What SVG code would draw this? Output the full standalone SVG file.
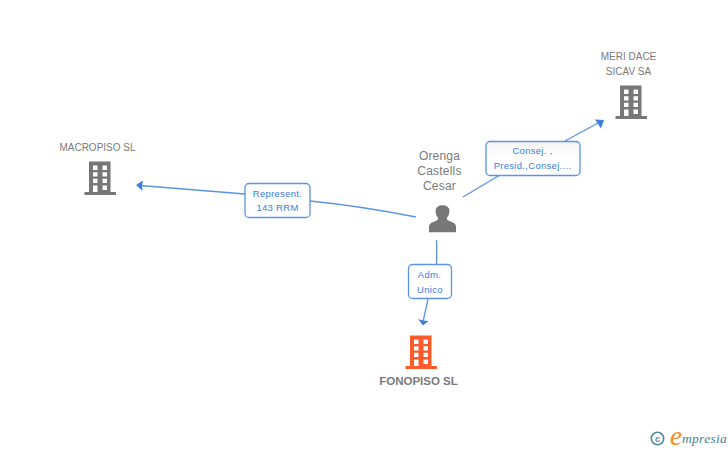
<svg xmlns="http://www.w3.org/2000/svg" width="728" height="450" viewBox="0 0 728 450">
<style>
.lbl{font-family:"Liberation Sans",Arial,sans-serif;font-size:10px;fill:#7a7a7a;text-anchor:middle}
.per{font-size:12px;letter-spacing:.2px}
.rel{font-family:"Liberation Sans",Arial,sans-serif;font-size:9.500px;fill:#3a7ce0;text-anchor:middle;letter-spacing:.3px}
.box{fill:#fff;stroke:#5b93e6;stroke-width:1.3}
.con{fill:none;stroke:#5b93e6;stroke-width:1.3}
.head{fill:#3f7fdc}
</style>
<defs>
<linearGradient id="g" x1="0" y1="0" x2="0" y2="1"><stop offset="0" stop-color="#f4f4f4"/><stop offset=".5" stop-color="#fff"/></linearGradient>
<g id="bld">
<path fill-rule="evenodd" d="M4.500 0H26V30.500H31.500V33.500H0V30.500H4.500ZM8.500 4V8.500H13V4ZM18 4V8.500H22.500V4ZM8.500 10.700V15H13V10.700ZM18 10.700V15H22.500V10.700ZM8.500 17.300V21.500H13V17.300ZM18 17.300V21.500H22.500V17.300ZM8.500 24V30.500H13V24ZM18 24V28.500H22.500V24Z"/>
</g>
</defs>
<g id="connectors">
<path class="con" d="M416 217Q360 206 310 201M245 194L140 185.500"/>
<path class="head" d="M136 185L143 180.500L142 185.800L142.500 191Z"/>
<path class="con" d="M463 197L500 175M565 141L600 122"/>
<path class="head" d="M604 120L595 119.500L598 124L601 128.500Z"/>
<path class="con" d="M436.500 240Q437 252 436.500 264M428 299L423 322"/>
<path class="head" d="M423 325.500L418 319L423 320.500L428.500 321Z"/>
</g>
<g id="rel-represent">
<rect class="box" x="245" y="183.500" width="65" height="34" rx="4"/>
<text class="rel" x="277.500" y="197">Represent.</text>
<text class="rel" x="277.500" y="211">143 RRM</text>
</g>
<g id="rel-consej">
<rect class="box" x="486" y="141.500" width="94" height="34" rx="4" style="fill:url(#g)"/>
<text class="rel" x="532.500" y="154">Consej. ,</text>
<text class="rel" x="532.500" y="169">Presid.,Consej....</text>
</g>
<g id="rel-adm">
<rect class="box" x="408.500" y="264.500" width="43" height="34" rx="4"/>
<text class="rel" x="429.500" y="278">Adm.</text>
<text class="rel" x="430" y="293">Unico</text>
</g>
<g id="node-macropiso">
<text class="lbl" x="97.500" y="151">MACROPISO SL</text>
<use href="#bld" x="84.500" y="161.500" fill="#777"/>
</g>
<g id="node-meridace">
<text class="lbl" x="628.500" y="60">MERI DACE</text>
<text class="lbl" x="628.500" y="75">SICAV SA</text>
<use href="#bld" x="615.500" y="85.500" fill="#777"/>
</g>
<g id="node-orenga">
<text class="lbl per" x="439.500" y="160">Orenga</text>
<text class="lbl per" x="439.500" y="175">Castells</text>
<text class="lbl per" x="439.500" y="190">Cesar</text>
<path fill="#777" d="M429 232V226Q429.500 222.500 434 221.500L438 219.500V217.500Q435.500 214.500 435.500 210.500Q436 205 442.500 205Q449 205 449.500 210.500Q449.500 214.500 447 217.500V219.500L451 221.500Q455.500 222.500 456 226V232Z" transform="translate(0,0.200)"/>
</g>
<g id="node-fonopiso">
<use href="#bld" x="405.500" y="335.500" fill="#ff5a2c"/>
<text class="lbl" x="418.500" y="385" style="font-weight:bold;font-size:11.500px">FONOPISO SL</text>
</g>
<g id="logo">
<circle cx="657.500" cy="438.500" r="6.200" fill="none" stroke="#4d8a9c" stroke-width="1.600"/>
<text x="657.500" y="441.500" style="font-family:'Liberation Sans',sans-serif;font-size:9px;font-weight:bold;fill:#4d8a9c;text-anchor:middle">c</text>
<text x="670" y="445" style="font-family:'Liberation Serif',serif;font-style:italic;font-size:27px;fill:#f08a24">e</text>
<text x="682" y="443" style="font-family:'Liberation Serif',serif;font-style:italic;font-size:13.500px;fill:#3f8296;letter-spacing:.3px">mpresia</text>
</g>
</svg>
